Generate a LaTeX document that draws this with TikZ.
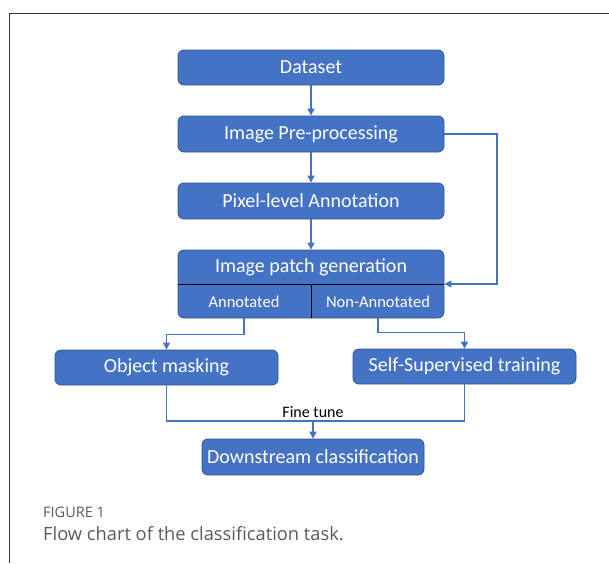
\documentclass[tikz,border=0pt]{standalone}
\usepackage{fontspec}
\setmainfont{Carlito}
\newfontfamily\capfont{Open Sans}
\usetikzlibrary{arrows.meta,calc}
\definecolor{boxblue}{HTML}{4472C4}
\definecolor{boxedge}{HTML}{2F5597}
\definecolor{capgray}{HTML}{5A5A5A}
\begin{document}
\begin{tikzpicture}[x=1pt,y=-1pt,
  flowbox/.style={draw=boxedge,line width=0.8pt,fill=boxblue,rounded corners=6pt,
    text=white,font=\fontsize{20}{22}\selectfont,inner sep=0pt},
  conn/.style={draw=boxblue,line width=1.1pt,-{Triangle[length=7pt,width=7pt]}},
  connplain/.style={draw=boxblue,line width=1.1pt},
  sublabel/.style={text=white,font=\fontsize{16.5}{18}\selectfont,inner sep=0pt}]
\useasboundingbox (0,0) rectangle (609,563);
\draw[line width=1pt,draw=black!80] (9,563) -- (9,13) -- (609,13);

\node[flowbox,minimum width=266pt,minimum height=35pt] (ds) at (311,67.5) {Dataset};
\node[flowbox,minimum width=266pt,minimum height=36pt] (pp) at (311,134) {Image Pre-processing};
\node[flowbox,minimum width=266pt,minimum height=36pt] (pa) at (311,201) {Pixel-level Annotation};
\node[flowbox,minimum width=266pt,minimum height=68pt] (pg) at (311,284) {};
\node[text=white,font=\fontsize{20}{22}\selectfont,inner sep=0pt] (pgt) at (311,267.5) {Image patch generation};
\draw[black,line width=1pt] (pg.west) -- (pg.east);
\draw[black,line width=1pt] (pg.center) -- (pg.south);
\node[sublabel] (ann) at (244,301.5) {Annotated};
\node[sublabel] (non) at (378,301.5) {Non-Annotated};

\node[flowbox,minimum width=223pt,minimum height=35pt] (om) at (166.5,367.5) {Object masking};
\node[flowbox,minimum width=223pt,minimum height=35pt] (ss) at (464.5,366.5) {Self-Supervised training};
\node[flowbox,minimum width=222pt,minimum height=36pt] (dc) at (313,457) {Downstream classification};

\draw[conn] (ds.south) -- (pp.north);
\draw[conn] (pp.south) -- (pa.north);
\draw[conn] (pa.south) -- (pg.north);
\draw[conn] (pp.east) -- (497,134) -- (497,284) -- (pg.east);

\coordinate (annb) at (ann |- pg.south);
\coordinate (nonb) at (non |- pg.south);
\draw[conn] (annb) -- ($(annb)+(0,16)$) -| (om.north);
\draw[conn] (nonb) -- ($(nonb)+(0,14)$) -| (ss.north);

\coordinate (merge) at (dc.north |- 0,421);
\draw[connplain] (om.south) |- (merge) -| (ss.south);
\draw[conn] (merge) -- (dc.north);
\node[font=\fontsize{16}{18}\selectfont,inner sep=0pt] (ft) at (313,412) {Fine tune};

\node[anchor=west,text=capgray,font=\capfont\fontsize{14.5}{16}\selectfont,inner sep=0pt] (fig) at (43,512) {FIGURE 1};
\node[anchor=west,text=capgray,font=\capfont\fontsize{18.3}{20}\selectfont,inner sep=0pt] (cap) at (43,534) {Flow chart of the classification task.};
\end{tikzpicture}
\end{document}
